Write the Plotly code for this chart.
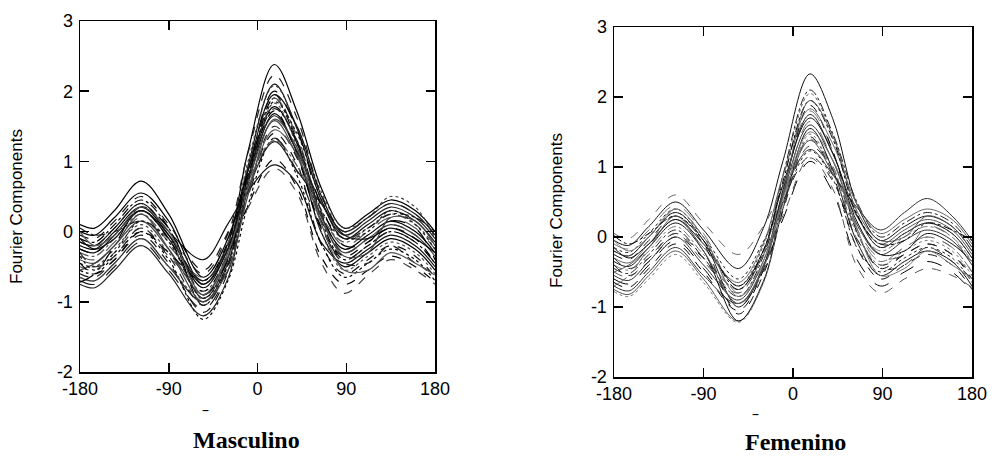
import plotly.graph_objects as go

# ---------------- data ----------------
angles = [-180, -165, -145, -118, -90, -55, -30, -10, 17, 40, 65, 88, 112, 135, 160, 180]

masculino_curves = [
    [0.00, -0.05, 0.20, 0.55, 0.15, -0.75, -0.17, 1.12, 2.38, 1.71, 0.61, 0.05, 0.25, 0.45, 0.30, 0.00],
    [-0.15, -0.20, 0.05, 0.40, 0.00, -0.60, -0.03, 1.10, 2.23, 1.62, 0.52, 0.00, 0.20, 0.40, 0.25, -0.05],
    [-0.25, -0.30, -0.05, 0.30, -0.10, -0.95, -0.38, 0.91, 2.10, 1.47, 0.44, -0.10, 0.10, 0.30, 0.15, -0.15],
    [-0.45, -0.50, -0.25, 0.10, -0.30, -0.85, -0.29, 0.98, 2.08, 1.49, 0.56, 0.05, 0.20, 0.50, 0.35, -0.10],
    [-0.10, -0.15, 0.10, 0.45, 0.05, -1.05, -0.48, 0.71, 1.90, 1.27, 0.14, -0.40, -0.20, 0.00, -0.15, -0.45],
    [-0.35, -0.40, -0.15, 0.20, -0.20, -0.65, -0.09, 0.90, 1.90, 1.36, 0.28, -0.20, 0.00, 0.20, 0.05, -0.25],
    [-0.60, -0.65, -0.40, -0.05, -0.45, -1.15, -0.58, 0.73, 1.95, 1.30, 0.25, -0.30, -0.10, 0.10, -0.05, -0.35],
    [-0.20, -0.25, 0.00, 0.35, -0.05, -0.80, -0.24, 0.68, 1.68, 1.13, -0.02, -0.50, -0.30, -0.10, -0.25, -0.55],
    [-0.65, -0.70, -0.45, -0.10, -0.50, -1.00, -0.45, 0.75, 1.65, 1.15, 0.40, -0.05, 0.15, 0.35, 0.20, -0.10],
    [-0.05, -0.10, 0.15, 0.50, 0.10, -0.55, -0.01, 0.63, 1.40, 0.96, -0.19, -0.60, -0.40, -0.20, -0.35, -0.65],
    [-0.40, -0.45, -0.20, 0.15, -0.25, -0.90, -0.35, 0.68, 1.58, 1.08, 0.15, -0.30, -0.10, 0.10, -0.05, -0.35],
    [-0.55, -0.60, -0.35, 0.00, -0.40, -1.25, -0.70, 0.36, 1.33, 0.80, -0.18, -0.65, -0.45, -0.25, -0.40, -0.70],
    [-0.30, -0.35, -0.10, 0.25, -0.15, -0.70, -0.17, 0.69, 1.30, 0.94, 0.21, -0.15, 0.05, 0.25, 0.10, -0.20],
    [-0.70, -0.75, -0.50, -0.15, -0.55, -1.10, -0.56, 0.49, 1.33, 0.86, 0.03, -0.40, -0.20, 0.00, -0.15, -0.45],
    [-0.25, -0.30, -0.05, 0.30, -0.10, -0.85, -0.32, 0.36, 1.03, 0.63, -0.37, -0.75, -0.55, -0.35, -0.50, -0.72],
    [-0.75, -0.80, -0.55, -0.20, -0.60, -1.20, -0.67, 0.57, 1.28, 0.87, 0.39, 0.00, 0.20, 0.40, 0.25, -0.05],
    [-0.15, -0.20, 0.05, 0.40, 0.00, -0.40, 0.11, 0.57, 0.95, 0.69, -0.16, -0.45, -0.25, -0.05, -0.20, -0.50],
    [-0.50, -0.55, -0.30, 0.05, -0.35, -0.75, -0.24, 0.33, 0.90, 0.55, -0.45, -0.88, -0.62, -0.40, -0.55, -0.75],
    [0.10, 0.05, 0.30, 0.72, 0.25, -0.65, -0.10, 0.85, 1.78, 1.26, 0.21, -0.25, -0.05, 0.15, 0.00, -0.30],
    [-0.65, -0.70, -0.45, -0.10, -0.50, -0.95, -0.38, 0.67, 1.83, 1.21, -0.02, -0.55, -0.35, -0.15, -0.30, -0.60],
    [0.05, -0.05, 0.00, 0.15, -0.10, -0.70, -0.20, 0.75, 1.75, 1.30, 0.30, -0.10, 0.05, 0.25, 0.20, 0.00],
    [-0.72, -0.60, -0.20, 0.35, 0.05, -0.90, -0.40, 0.80, 2.00, 1.45, 0.35, -0.20, -0.15, 0.15, 0.05, -0.40],
    [-0.30, -0.50, -0.35, 0.05, -0.35, -1.05, -0.50, 0.55, 1.50, 1.05, 0.05, -0.45, -0.45, -0.20, -0.45, -0.60],
    [-0.10, -0.25, -0.10, 0.30, -0.05, -0.75, -0.25, 0.85, 1.95, 1.50, 0.50, -0.05, -0.10, 0.05, -0.10, -0.30],
    [-0.55, -0.45, -0.20, 0.25, -0.25, -1.00, -0.55, 0.50, 1.60, 1.20, 0.20, -0.35, -0.30, 0.20, 0.15, -0.20],
    [-0.45, -0.60, -0.40, 0.00, -0.30, -0.70, -0.15, 0.80, 1.72, 1.10, 0.05, -0.35, -0.15, 0.05, -0.10, -0.45],
    [0.00, -0.20, -0.05, 0.35, 0.00, -0.90, -0.30, 0.60, 1.45, 1.10, 0.10, -0.55, -0.55, -0.30, -0.45, -0.62],
    [-0.35, -0.55, -0.30, 0.15, -0.15, -0.95, -0.45, 0.70, 1.85, 1.40, 0.45, -0.10, 0.00, 0.30, 0.10, -0.25],
]

femenino_curves = [
    [-0.05, -0.12, 0.15, 0.50, 0.10, -0.45, 0.12, 1.09, 2.33, 1.69, 0.44, -0.05, 0.15, 0.30, 0.15, -0.20],
    [-0.20, -0.27, 0.00, 0.35, -0.05, -0.70, -0.13, 0.87, 2.05, 1.45, 0.32, -0.15, 0.05, 0.20, 0.05, -0.30],
    [-0.45, -0.52, -0.25, 0.10, -0.30, -0.85, -0.28, 0.89, 2.10, 1.48, 0.48, 0.00, 0.20, 0.35, 0.20, -0.15],
    [-0.10, -0.17, 0.10, 0.45, 0.05, -0.80, -0.24, 0.69, 1.80, 1.23, 0.10, -0.35, -0.15, 0.00, -0.15, -0.50],
    [-0.65, -0.72, -0.45, -0.10, -0.50, -1.05, -0.48, 0.60, 1.88, 1.23, 0.05, -0.45, -0.25, -0.10, -0.25, -0.60],
    [-0.30, -0.37, -0.10, 0.25, -0.15, -0.65, -0.10, 0.88, 1.83, 1.33, 0.45, 0.05, 0.25, 0.40, 0.25, -0.10],
    [-0.55, -0.62, -0.35, 0.00, -0.40, -0.90, -0.35, 0.62, 1.60, 1.09, 0.16, -0.25, -0.05, 0.10, -0.05, -0.40],
    [-0.25, -0.32, -0.05, 0.30, -0.10, -1.10, -0.54, 0.38, 1.43, 0.88, -0.17, -0.60, -0.40, -0.25, -0.40, -0.75],
    [-0.75, -0.82, -0.55, -0.20, -0.60, -1.20, -0.66, 0.49, 1.38, 0.91, 0.28, -0.10, 0.10, 0.25, 0.10, -0.25],
    [-0.15, -0.22, 0.05, 0.40, 0.00, -0.60, -0.07, 0.51, 1.23, 0.83, -0.17, -0.50, -0.30, -0.15, -0.30, -0.65],
    [-0.40, -0.47, -0.20, 0.15, -0.25, -0.75, -0.21, 0.61, 1.40, 0.98, 0.15, -0.20, 0.00, 0.15, 0.00, -0.35],
    [-0.60, -0.67, -0.40, -0.05, -0.45, -1.00, -0.46, 0.26, 1.08, 0.64, -0.34, -0.70, -0.50, -0.35, -0.50, -0.78],
    [0.05, -0.02, 0.25, 0.60, 0.20, -0.25, 0.15, 0.72, 1.38, 1.01, -0.04, -0.35, -0.15, 0.00, -0.15, -0.50],
    [-0.70, -0.77, -0.50, -0.15, -0.55, -0.95, -0.42, 0.59, 1.25, 0.89, 0.41, 0.10, 0.35, 0.55, 0.30, -0.05],
    [-0.35, -0.42, -0.15, 0.20, -0.20, -1.20, -0.64, 0.41, 1.55, 0.96, -0.09, -0.55, -0.35, -0.20, -0.35, -0.70],
    [-0.50, -0.57, -0.30, 0.05, -0.35, -0.80, -0.26, 0.31, 1.13, 0.69, -0.44, -0.80, -0.60, -0.45, -0.55, -0.72],
    [-0.20, -0.27, 0.00, 0.35, -0.05, -1.00, -0.44, 0.67, 1.75, 1.19, 0.29, -0.15, 0.05, 0.20, 0.05, -0.30],
    [-0.78, -0.85, -0.60, -0.25, -0.65, -1.22, -0.66, 0.42, 1.47, 0.92, 0.03, -0.40, -0.20, -0.05, -0.20, -0.55],
    [0.02, -0.10, 0.05, 0.30, -0.05, -0.75, -0.20, 0.80, 1.95, 1.40, 0.30, -0.10, -0.05, 0.20, 0.10, -0.05],
    [-0.70, -0.55, -0.15, 0.40, 0.00, -0.85, -0.40, 0.55, 1.65, 1.10, 0.10, -0.30, -0.25, 0.15, 0.00, -0.45],
    [-0.30, -0.45, -0.30, 0.05, -0.30, -0.95, -0.50, 0.45, 1.30, 0.95, 0.05, -0.45, -0.40, -0.15, -0.35, -0.60],
    [-0.15, -0.30, -0.10, 0.25, -0.10, -0.70, -0.20, 0.75, 1.70, 1.20, 0.20, -0.25, -0.20, 0.05, -0.10, -0.35],
    [-0.50, -0.40, -0.15, 0.30, -0.20, -0.95, -0.45, 0.60, 1.95, 1.45, 0.35, -0.05, 0.00, 0.30, 0.15, -0.20],
    [-0.40, -0.55, -0.35, 0.00, -0.30, -0.75, -0.25, 0.50, 1.15, 0.80, -0.05, -0.40, -0.25, -0.10, -0.25, -0.55],
    [-0.05, -0.20, 0.00, 0.40, 0.00, -0.85, -0.35, 0.55, 1.50, 1.10, 0.10, -0.55, -0.45, -0.20, -0.40, -0.60],
]

x_tick_values = [-180, -90, 0, 90, 180]
x_tick_labels = ["-180", "-90", "0", "90", "180"]
y_tick_values = [-2, -1, 0, 1, 2, 3]
y_tick_labels = ["-2", "-1", "0", "1", "2", "3"]
panel_titles = ["Masculino", "Femenino"]
y_axis_title = "Fourier Components"
x_axis_title = "\u2013"

# ---------------- styles ----------------
left_colors = ["#000000", "#222222", "#111111", "#444444", "#000000", "#555555", "#1a1a1a"]
right_colors = ["#111111", "#555555", "#222222", "#777777", "#000000", "#666666", "#333333"]
dashes = ["solid", "dash", "solid", "dot", "dashdot", "longdash", "dash", "solid"]

fig = go.Figure()

for i, curve in enumerate(masculino_curves):
    fig.add_trace(go.Scatter(
        x=angles, y=curve, mode="lines", xaxis="x", yaxis="y",
        line=dict(color=left_colors[i % len(left_colors)], width=1.2,
                  dash=dashes[i % len(dashes)], shape="spline"),
        showlegend=False, hoverinfo="skip"))

for i, curve in enumerate(femenino_curves):
    fig.add_trace(go.Scatter(
        x=angles, y=curve, mode="lines", xaxis="x2", yaxis="y2",
        line=dict(color=right_colors[i % len(right_colors)], width=1.0,
                  dash=dashes[(i + 2) % len(dashes)], shape="spline"),
        showlegend=False, hoverinfo="skip"))

W, H = 992, 458

def px(x):
    return x / W

def py(y):
    return 1 - y / H

tick_font = dict(family="Liberation Sans, Arial, sans-serif", size=18, color="#000")

def xaxis(domain, anchor):
    return dict(domain=domain, anchor=anchor, range=[-180, 180], automargin=False,
                tickmode="array", tickvals=x_tick_values, ticktext=x_tick_labels,
                ticks="inside", ticklen=9, tickwidth=1.5, tickcolor="#000",
                showline=True, linecolor="#000", linewidth=1.5, mirror="ticks",
                showgrid=False, zeroline=False, tickfont=tick_font,
                ticklabelstandoff=0)

def yaxis(domain, anchor):
    return dict(domain=domain, anchor=anchor, range=[-2, 3], automargin=False,
                tickmode="array", tickvals=y_tick_values, ticktext=y_tick_labels,
                ticks="inside", ticklen=9, tickwidth=1.5, tickcolor="#000",
                showline=True, linecolor="#000", linewidth=1.5, mirror="ticks",
                showgrid=False, zeroline=False, tickfont=tick_font,
                ticklabelstandoff=2)

fig.update_layout(
    width=W, height=H,
    margin=dict(l=0, r=0, t=0, b=0, pad=0, autoexpand=False),
    paper_bgcolor="white", plot_bgcolor="white",
    hovermode=False,
    xaxis=xaxis([px(80), px(435)], "y"),
    yaxis=yaxis([py(372), py(21)], "x"),
    xaxis2=xaxis([px(614), px(972)], "y2"),
    yaxis2=yaxis([py(377), py(27)], "x2"),
)

ann_font_title = dict(family="Liberation Serif, Times New Roman, serif", size=24, color="#000")
ann_font_y = dict(family="Liberation Sans, Arial, sans-serif", size=17, color="#000")

annotations = [
    dict(text="<b>" + panel_titles[0] + "</b>", x=px(246), y=py(440), xref="paper", yref="paper",
         showarrow=False, font=ann_font_title, xanchor="center", yanchor="middle"),
    dict(text="<b>" + panel_titles[1] + "</b>", x=px(795), y=py(442), xref="paper", yref="paper",
         showarrow=False, font=ann_font_title, xanchor="center", yanchor="middle"),
    dict(text=y_axis_title, x=px(16), y=py(207), xref="paper", yref="paper",
         showarrow=False, font=ann_font_y, textangle=-90, xanchor="center", yanchor="middle"),
    dict(text=y_axis_title, x=px(556), y=py(211), xref="paper", yref="paper",
         showarrow=False, font=ann_font_y, textangle=-90, xanchor="center", yanchor="middle"),
    dict(text=x_axis_title, x=px(205), y=py(409), xref="paper", yref="paper",
         showarrow=False, font=dict(size=14, color="#000"), xanchor="center", yanchor="middle"),
    dict(text=x_axis_title, x=px(755), y=py(413), xref="paper", yref="paper",
         showarrow=False, font=dict(size=14, color="#000"), xanchor="center", yanchor="middle"),
]
fig.update_layout(annotations=annotations)

# remove the browser's default 8 px page margin so the figure fills the window exactly
fig.write_html("out.html",
               config={"displayModeBar": False, "staticPlot": True},
               post_script="document.body.style.margin='0';document.body.style.overflow='hidden';")
